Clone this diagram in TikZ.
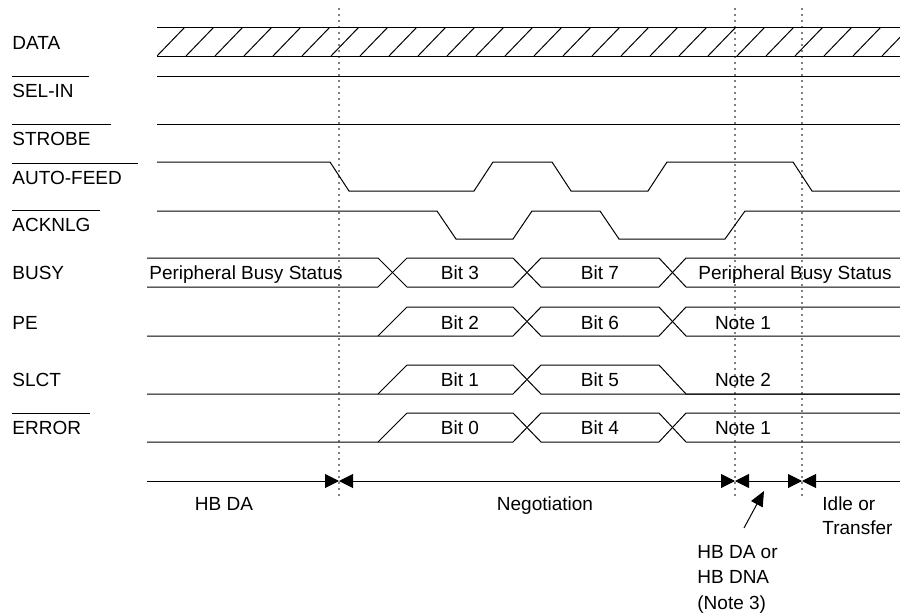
\documentclass[tikz,border=0pt]{standalone}
\usepackage{fontspec}
\setmainfont{Liberation Sans}
\usetikzlibrary{arrows.meta}

% bar over an active-low signal name
\newcommand{\actlow}[2]{\vbox{\hrule height 0.5pt\kern 3.5pt\hbox{#1\kern #2}}}

\begin{document}
\begin{tikzpicture}[x=0.5pt, y=-0.5pt,
    font=\fontsize{9.5}{12}\selectfont,
    sig/.style={line width=0.5pt},
    guide/.style={draw=gray, line width=0.9pt, dash pattern=on 1pt off 2pt},
    signame/.style={anchor=base west, inner sep=0pt},
    val/.style={anchor=base, inner sep=0pt},
    phase/.style={line width=0.5pt, >={Triangle[length=7pt, width=7pt]}}]
    \useasboundingbox (0,0) rectangle (900,616);

    % phase boundaries
    \foreach \x in {339,735,802}
        \draw[guide] (\x,8) -- (\x,497);

    % signal names
    \node[signame] (data) at (12,49) {DATA};
    \node[signame] (selin) at (12,97) {\actlow{SEL-IN}{7.5pt}};
    \node[signame] (strobe) at (12,145) {\actlow{STROBE}{10pt}};
    \node[signame] (autofeed) at (12,184) {\actlow{AUTO-FEED}{8pt}};
    \node[signame] (acknlg) at (12,231) {\actlow{ACKNLG}{4.5pt}};
    \node[signame] (busy) at (12,279) {BUSY};
    \node[signame] (pe) at (12,329) {PE};
    \node[signame] (slct) at (12,386) {SLCT};
    \node[signame] (error) at (12,434) {\actlow{ERROR}{4.5pt}};

    % DATA, don't care
    \draw[sig] (157,27) -- (900,27) (157,56) -- (900,56);
    \begin{scope}
        \clip (157,27) rectangle (900,56);
        \foreach \x in {157,186,...,900}
            \draw[sig] (\x,56) -- ++(28,-29);
    \end{scope}

    % host side
    \draw[sig] (157,76) -- (900,76);
    \draw[sig] (157,124) -- (900,124);
    \draw[sig] (157,162) -- (330,162) -- (349,191) -- (474,191) -- (493,162) -- (552,162)
        -- (571,191) -- (648,191) -- (667,162) -- (793,162) -- (812,191) -- (900,191);
    \draw[sig] (157,211) -- (437,211) -- (456,239) -- (513,239) -- (532,211) -- (600,211)
        -- (619,239) -- (725,239) -- (745,211) -- (900,211);

    % BUSY
    \draw[sig] (147,258) -- (378,258) -- (407,287) -- (513,287) -- (541,258) -- (659,258) -- (686,287) -- (900,287);
    \draw[sig] (147,287) -- (378,287) -- (407,258) -- (513,258) -- (541,287) -- (659,287) -- (686,258) -- (900,258);
    % PE and ERROR
    \foreach \t/\b in {307/336, 413/442} {
        \draw[sig] (147,\b) -- (513,\b) -- (541,\t) -- (659,\t) -- (686,\b) -- (900,\b);
        \draw[sig] (378,\b) -- (407,\t) -- (513,\t) -- (541,\b) -- (659,\b) -- (686,\t) -- (900,\t);
    }
    % SLCT
    \draw[sig] (147,394) -- (513,394) -- (541,365) -- (659,365) -- (686,394) -- (900,394);
    \draw[sig] (378,394) -- (407,365) -- (513,365) -- (541,394) -- (900,394);

    % bus values
    \node[val, anchor=base west] (busyl) at (149,279) {Peripheral Busy Status};
    \node[val] (bit3) at (460,279) {Bit 3};
    \node[val] (bit7) at (600,279) {Bit 7};
    \node[val] (busyr) at (795,279) {Peripheral Busy Status};
    \node[val] (bit2) at (460,329) {Bit 2};
    \node[val] (bit6) at (600,329) {Bit 6};
    \node[val] (notepe) at (743,329) {Note 1};
    \node[val] (bit1) at (460,386) {Bit 1};
    \node[val] (bit5) at (600,386) {Bit 5};
    \node[val] (noteslct) at (743,386) {Note 2};
    \node[val] (bit0) at (460,434) {Bit 0};
    \node[val] (bit4) at (600,434) {Bit 4};
    \node[val] (noteerr) at (743,434) {Note 1};

    % phases
    \coordinate (p0) at (147,481);
    \coordinate (p1) at (339,481);
    \coordinate (p2) at (735,481);
    \coordinate (p3) at (802,481);
    \coordinate (p4) at (900,481);
    \draw[phase, ->] (p0) -- (p1);
    \draw[phase, <->] (p1) -- (p2);
    \draw[phase, <->] (p2) -- (p3);
    \draw[phase, <-] (p3) -- (p4);

    \node[val] (hbda) at (224,510) {HB DA};
    \node[val] (nego) at (545,510) {Negotiation};
    \node[anchor=north west, inner sep=0pt, align=left] (idle) at (822,496) {Idle or\\Transfer};
    \node[anchor=north west, inner sep=0pt, align=left, font=\fontsize{9.5}{12.7}\selectfont]
        (hbdna) at (697,545) {HB DA or\\HB DNA\\(Note 3)};

    \coordinate (hbtarget) at (764,491);
    \draw[line width=0.5pt, -{Triangle[length=7.5pt, width=6.5pt]}]
        ([shift={(47,-17)}]hbdna.north west) -- (hbtarget);
\end{tikzpicture}
\end{document}
